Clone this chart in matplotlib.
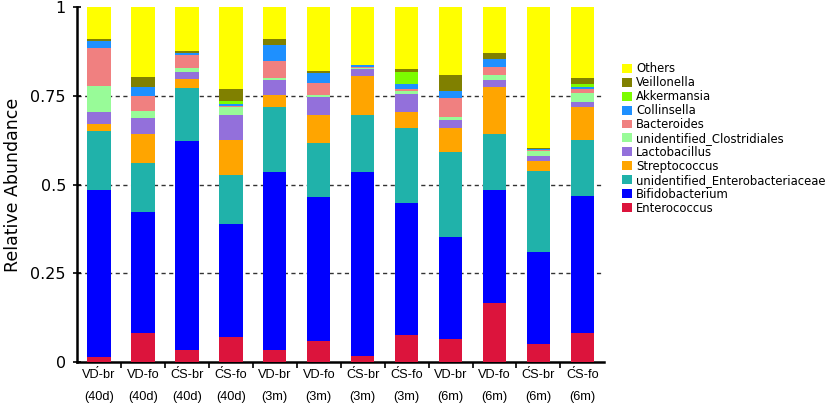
import numpy as np
import matplotlib.pyplot as plt

groups = ['VD\u0301-br\n(40d)', 'VD-fo\n(40d)', 'C\u0301S-br\n(40d)', 'C\u0301S-fo\n(40d)',
          'VD-br\n(3m)', 'VD-fo\n(3m)', 'C\u0301S-br\n(3m)', 'C\u0301S-fo\n(3m)',
          'VD-br\n(6m)', 'VD-fo\n(6m)', 'C\u0301S-br\n(6m)', 'C\u0301S-fo\n(6m)']

# relative abundance of each taxon per sample (bottom to top of the stack)
enterococcus = [0.014, 0.082, 0.033, 0.069, 0.035, 0.058, 0.017, 0.077, 0.064, 0.165, 0.050, 0.082]
bifidobacterium = [0.472, 0.342, 0.591, 0.321, 0.501, 0.407, 0.518, 0.371, 0.289, 0.319, 0.260, 0.386]
enterobacteriaceae = [0.164, 0.136, 0.150, 0.136, 0.184, 0.153, 0.162, 0.211, 0.238, 0.159, 0.228, 0.158]
streptococcus = [0.021, 0.083, 0.025, 0.100, 0.032, 0.079, 0.110, 0.046, 0.069, 0.133, 0.029, 0.094]
lactobacillus = [0.034, 0.045, 0.020, 0.071, 0.043, 0.051, 0.019, 0.052, 0.023, 0.019, 0.013, 0.014]
clostridiales = [0.074, 0.021, 0.010, 0.021, 0.006, 0.004, 0.003, 0.006, 0.009, 0.014, 0.015, 0.025]
bacteroides = [0.107, 0.042, 0.038, 0.003, 0.048, 0.034, 0.003, 0.008, 0.052, 0.022, 0.002, 0.010]
collinsella = [0.020, 0.024, 0.003, 0.006, 0.044, 0.028, 0.005, 0.013, 0.019, 0.022, 0.003, 0.007]
akkermansia = [0.0, 0.0, 0.0, 0.009, 0.0, 0.0, 0.0, 0.035, 0.0, 0.0, 0.0, 0.009]
veillonella = [0.004, 0.028, 0.006, 0.034, 0.017, 0.006, 0.001, 0.007, 0.047, 0.017, 0.002, 0.017]
others = [0.090, 0.197, 0.124, 0.230, 0.090, 0.180, 0.162, 0.174, 0.190, 0.130, 0.398, 0.198]

taxa = ['Enterococcus', 'Bifidobacterium', 'unidentified_Enterobacteriaceae', 'Streptococcus',
        'Lactobacillus', 'unidentified_Clostridiales', 'Bacteroides', 'Collinsella',
        'Akkermansia', 'Veillonella', 'Others']
series = [enterococcus, bifidobacterium, enterobacteriaceae, streptococcus, lactobacillus,
          clostridiales, bacteroides, collinsella, akkermansia, veillonella, others]
colors = ['#DC143C', '#0000FF', '#20B2AA', '#FFA500', '#9370DB', '#98FB98',
          '#F08080', '#1E90FF', '#7CFC00', '#808000', '#FFFF00']

fig = plt.figure(figsize=(8.29, 4.09), dpi=100)
ax = fig.add_axes([0.093, 0.115, 0.636, 0.867])

x = np.arange(len(groups))
bottom = np.zeros(len(groups))
handles = []
for name, vals, c in zip(taxa, series, colors):
    vals = np.array(vals)
    b = ax.bar(x, vals, width=0.53, bottom=bottom, color=c, edgecolor='none', label=name, zorder=3)
    handles.append(b)
    bottom += vals

ax.set_xlim(-0.5, 11.5)
ax.set_ylim(0, 1)
for yv in [0.25, 0.5, 0.75]:
    ax.axhline(yv, color='#333333', linestyle=(0, (3, 2.5)), linewidth=1, zorder=1)

ax.set_yticks([0, 0.25, 0.5, 0.75, 1])
ax.set_yticklabels(['0', '0.25', '0.5', '0.75', '1'], fontsize=11.5)
ax.tick_params(axis='y', direction='inout', length=6, width=1.2, pad=5)

ax.set_xticks(x)
ax.set_xticklabels(groups, fontsize=9.2, family='Liberation Sans', linespacing=2.1)
ax.tick_params(axis='x', which='major', length=0, pad=5)
ax.set_xticks(np.arange(0.5, 11.5, 1), minor=True)
ax.tick_params(axis='x', which='minor', direction='out', length=4, width=1.2)

for s in ['top', 'right']:
    ax.spines[s].set_visible(False)
ax.spines['left'].set_linewidth(1.8)
ax.spines['bottom'].set_linewidth(1.8)

ax.set_ylabel('Relative Abundance', fontsize=12.5, labelpad=6)

fig.legend(handles[::-1], taxa[::-1], loc='upper left', bbox_to_anchor=(0.745, 0.859),
           frameon=False, fontsize=8.4, handlelength=0.8, handleheight=0.8,
           handletextpad=0.4, labelspacing=0.08, borderaxespad=0)

fig.savefig('out.png', dpi=100)
